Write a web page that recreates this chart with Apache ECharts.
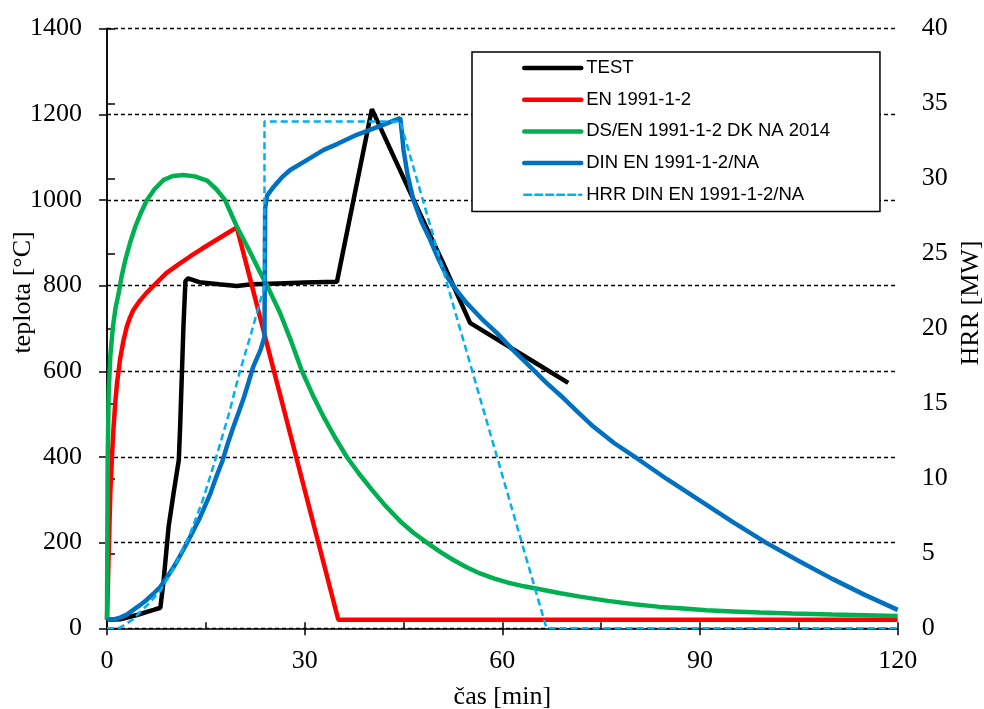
<!DOCTYPE html>
<html>
<head>
<meta charset="utf-8">
<script src="https://cdn.jsdelivr.net/npm/echarts@6/dist/echarts.min.js"></script>
<style>
html,body{margin:0;padding:0;background:#fff;}
#chart{width:984px;height:709px;}
</style>
</head>
<body>
<div id="chart"></div>
<script>
// ---- data (time in min, temperature in °C, HRR in MW) ----
var seriesNames = ['TEST', 'EN 1991-1-2', 'DS/EN 1991-1-2 DK NA 2014', 'DIN EN 1991-1-2/NA', 'HRR DIN EN 1991-1-2/NA'];

var testTime = [0, 2, 4.55, 7.07, 8.1, 8.6, 9.35, 10.1, 10.9, 11.1, 11.6, 11.9, 12.3, 14, 17, 19.7, 22, 26, 30, 34.9, 40.2, 47.5, 51, 55.1, 60, 65, 70];
var testTemp = [20, 21, 31, 43, 48, 113, 237, 315, 393, 471, 704, 810, 817, 808, 803, 799, 803, 805, 807, 809, 1212, 968, 853, 713, 667, 620, 573];

var enTime = [0, 0.15, 0.3, 0.5, 0.75, 1, 1.25, 1.5, 2, 2.5, 3, 3.5, 4, 5, 6, 7.1, 9, 10.8, 12.6, 14.4, 16.2, 18, 19.7, 35.1, 120];
var enTemp = [20, 110, 198, 315, 400, 471, 525, 570, 630, 672, 704, 726, 743, 765, 783, 800, 829, 849, 868, 886, 903, 920, 936, 20, 20];

var dkTime = [0, 0.1, 0.25, 0.5, 0.9, 1.3, 1.77, 2.2, 2.78, 3.5, 4.3, 5.2, 6.07, 7.2, 8.6, 10, 11.6, 13.3, 15.2, 16.6, 17.9, 19.7, 21.5, 23.3, 24.3, 26.3, 28, 29.6, 31.3, 33, 34.7, 36.4, 38.2, 40, 42.2, 44.5, 46.5, 48.55, 50.5, 52.5, 54.5, 56.6, 58.8, 61, 63.3, 65.7, 68.8, 71.8, 76, 80, 83.9, 87.5, 91, 95, 99.1, 104, 110, 115, 120];
var dkTemp = [20, 390, 549, 635, 704, 748, 782, 820, 860, 900, 938, 972, 1000, 1025, 1047, 1056, 1058, 1055, 1045, 1025, 1000, 938, 885, 829, 800, 735, 668, 600, 542, 490, 443, 400, 362, 327, 287, 250, 223, 200, 179, 160, 143, 128, 116, 106, 98, 91, 82, 74, 64, 56, 50, 46, 42, 39.5, 37, 34.5, 32, 30.5, 29];

var dinTime = [0, 1, 2, 3, 4, 5, 6, 7, 8.1, 9, 10, 11, 12.1, 13, 14, 15.7, 16.5, 17.5, 18.3, 19.2, 20, 20.8, 21.5, 22.2, 23.3, 23.9, 24, 24.3, 25.3, 26.5, 27.8, 30, 32.9, 35, 37.9, 41, 44.5, 44.8, 45, 45.6, 46.5, 47.7, 49.05, 50.3, 51.6, 53, 54.6, 56.9, 59.2, 61.6, 64.2, 66.7, 69.3, 71.5, 73.8, 77, 80.4, 85, 90, 95, 100, 105, 110, 115, 120];
var dinTemp = [20, 21, 25, 32, 43, 54, 66, 80, 97, 117, 140, 167, 198, 225, 255, 315, 350, 390, 430, 471, 505, 540, 575, 611, 650, 680, 980, 1010, 1031, 1052, 1070, 1090, 1117, 1131, 1152, 1170, 1191, 1150, 1117, 1060, 1000, 950, 907, 862, 821, 790, 759, 722, 689, 650, 611, 573, 537, 504, 471, 432, 397, 348, 298, 248, 200, 157, 116, 78, 43];

var hrrTime = [0, 1, 2, 4, 5, 6, 8.1, 10, 12.6, 14.5, 16.7, 18.5, 20.2, 21.7, 23.3, 23.9, 23.9, 44.5, 66.7, 120];
var hrrMW = [0, 0, 0.05, 0.6, 1.1, 1.5, 2.5, 3.9, 6.3, 8.5, 11.6, 14.3, 17.2, 19.4, 21.9, 22.8, 33.8, 33.8, 0, 0];

var xTicks = [0, 30, 60, 90, 120];

function zip(a, b) { return a.map(function (v, i) { return [v, b[i]]; }); }

var serifFont = 'Liberation Serif';
var chart = echarts.init(document.getElementById('chart'), null, { renderer: 'canvas' });

var axisLineStyle = { color: '#000', width: 1.5 };
function plain(v) { return String(v); }

function lineSeries(idx, name, data, color, width, extra) {
  var s = {
    name: name, type: 'line', data: data, symbol: 'none', showSymbol: false,
    itemStyle: { color: color },
    lineStyle: { color: color, width: width },
    emphasis: { disabled: true },
    z: 2 + idx
  };
  if (extra) for (var k in extra) s[k] = extra[k];
  return s;
}

var option = {
  animation: false,
  backgroundColor: '#fff',
  grid: { left: 107, right: 86.3, top: 28.6, bottom: 80.7, containLabel: false, outerBoundsMode: 'none' },
  legend: {
    orient: 'vertical',
    left: 472, top: 52,
    padding: [6, 50, 6.7, 50],
    itemGap: 11.7,
    itemWidth: 57, itemHeight: 20,
    borderColor: '#000', borderWidth: 1.5,
    backgroundColor: '#fff',
    itemStyle: { opacity: 0 },
    lineStyle: { width: 'inherit', cap: 'round' },
    textStyle: { fontFamily: 'Liberation Sans', fontSize: 18.5, color: '#000', lineHeight: 20 },
    data: seriesNames
  },
  xAxis: [{
    type: 'value', min: xTicks[0], max: xTicks[xTicks.length - 1], interval: 30,
    position: 'bottom',
    name: 'čas [min]', nameLocation: 'middle', nameGap: 56, nameMoveOverlap: false,
    nameTextStyle: { fontFamily: serifFont, fontSize: 26, color: '#000' },
    axisLine: { show: true, lineStyle: axisLineStyle },
    axisTick: { show: true, inside: false, length: 7, lineStyle: axisLineStyle },
    axisLabel: { margin: 20, fontFamily: serifFont, fontSize: 26, color: '#000', formatter: plain },
    splitLine: { show: false }
  }, {
    type: 'value', min: 0, max: 120, interval: 15,
    position: 'bottom',
    axisLine: { show: false },
    axisTick: { show: true, inside: true, length: 6, lineStyle: axisLineStyle },
    axisLabel: { show: false },
    splitLine: { show: false }
  }],
  yAxis: [{
    type: 'value', min: 0, max: 1400, interval: 200,
    position: 'left',
    name: 'teplota [°C]', nameLocation: 'middle', nameGap: 71, nameMoveOverlap: false,
    nameTextStyle: { fontFamily: serifFont, fontSize: 26, color: '#000', padding: [0, 0, 0, 72] },
    axisLine: { show: true, lineStyle: axisLineStyle },
    axisTick: { show: true, inside: false, length: 8, lineStyle: axisLineStyle },
    axisLabel: { margin: 25, fontFamily: serifFont, fontSize: 26, color: '#000', formatter: plain },
    splitLine: { show: true, lineStyle: { color: '#000', width: 1.3, type: [4, 3] } }
  }, {
    type: 'value', min: 0, max: 40, interval: 5,
    position: 'right',
    name: 'HRR [MW]', nameLocation: 'middle', nameGap: 60, nameMoveOverlap: false,
    nameTextStyle: { fontFamily: serifFont, fontSize: 26, color: '#000', padding: [0, 0, 0, 51] },
    axisLine: { show: true, lineStyle: axisLineStyle },
    axisTick: { show: true, inside: false, length: 8, lineStyle: axisLineStyle },
    axisLabel: { margin: 24, fontFamily: serifFont, fontSize: 26, color: '#000', formatter: plain },
    splitLine: { show: false }
  }],
  series: [
    lineSeries(0, seriesNames[0], zip(testTime, testTemp), '#000000', 4.5),
    lineSeries(1, seriesNames[1], zip(enTime, enTemp), '#FF0000', 4.5),
    lineSeries(2, seriesNames[2], zip(dkTime, dkTemp), '#00B050', 4.5),
    lineSeries(3, seriesNames[3], zip(dinTime, dinTemp), '#0070C0', 4.5),
    lineSeries(4, seriesNames[4], zip(hrrTime, hrrMW), '#00B0F0', 2.5, { yAxisIndex: 1 })
  ]
};
option.series[4].lineStyle.type = [7, 4];
chart.setOption(option);
</script>
</body>
</html>
